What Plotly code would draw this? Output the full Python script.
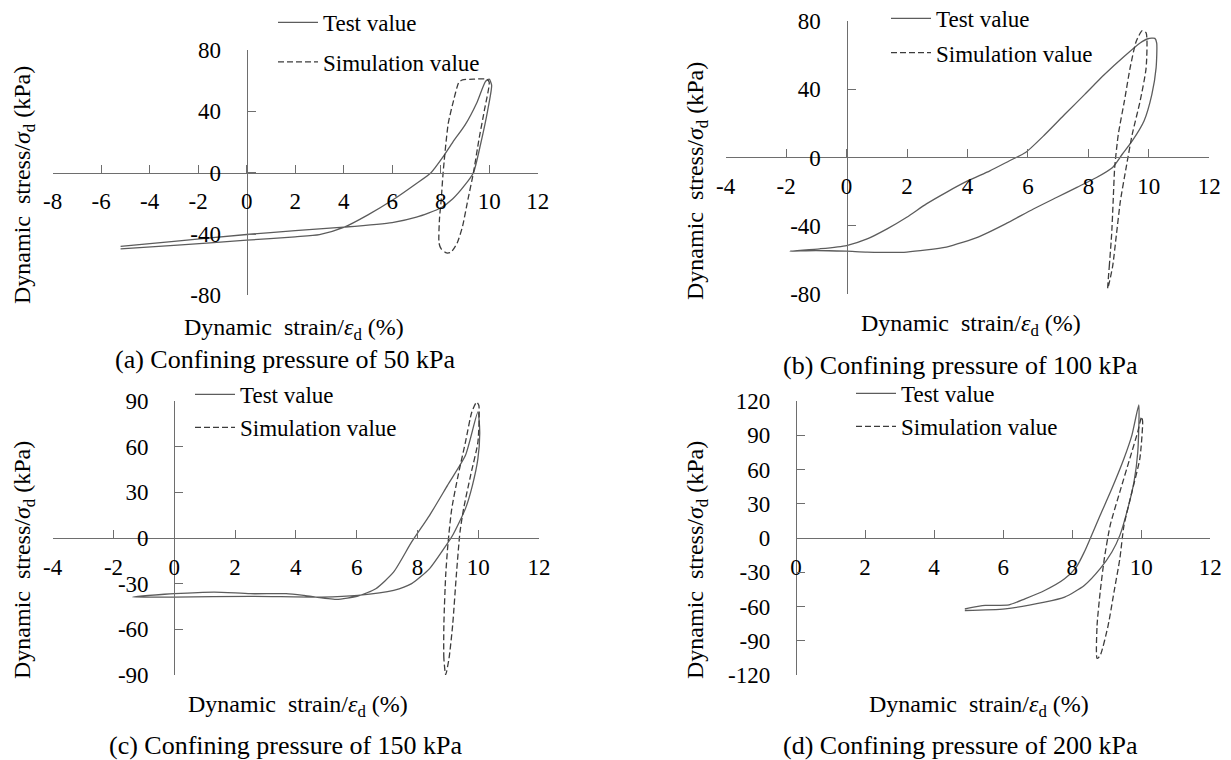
import plotly.graph_objects as go

W, H = 1231, 760

# ---------------- data ----------------
# (a) confining pressure 50 kPa
test_a_x = [-5.2, -3, 0, 2, 4, 6, 7, 8, 8.5, 9, 9.35, 9.65, 9.93, 10.1, 10.0, 9.85, 9.5, 9.0, 8.5, 8.1, 7.6, 7.0, 6.0, 5.0, 4.0, 3.0, 2.0, 0, -3, -5.2]
test_a_y = [-48, -44.8, -40.3, -37.8, -35.5, -32.5, -29, -23, -17, -8, 0, 19, 40, 57, 61, 59.5, 46, 31, 20, 10.4, 0, -7, -18, -27.5, -35.7, -40.4, -41.8, -44, -47.4, -49.7]
sim_a_x = [8.24, 8.02, 7.93, 7.95, 8.02, 8.1, 8.31, 8.53, 8.75, 8.9, 9.4, 9.9, 10.0, 9.8, 9.57, 9.35, 9.12, 8.9, 8.68, 8.42, 8.24]
sim_a_y = [-52.3, -49.7, -45.8, -30, -17.7, 0, 32, 47, 59, 60.5, 61, 61, 59, 40.6, 21, 0, -17.7, -35, -45.8, -51.9, -52.3]

# (b) confining pressure 100 kPa
test_b_x = [-1.87, -0.89, 0, 0.68, 1.34, 1.99, 2.64, 3.3, 4.02, 4.74, 5.39, 5.92, 6.57, 7.22, 7.88, 8.53, 9.19, 9.71, 9.97, 10.2, 10.26, 10.24, 10.1, 9.84, 9.45, 9.12, 8.8, 8.27, 7.62, 6.96, 6.18, 5.26, 4.35, 3.3, 1.99, 0.68, 0, -1.02, -1.87]
test_b_y = [-54.9, -53.5, -51.6, -47.7, -41.8, -35, -27.2, -20.4, -13.6, -7.8, -1.9, 2.9, 13.6, 25.3, 37, 48.6, 59.3, 67.1, 69.6, 69.8, 67, 52.5, 37, 21.4, 9.7, 1.9, -5.8, -11.7, -17.5, -23.3, -30.2, -38.9, -46.7, -52.5, -55.4, -55.4, -54.9, -54.5, -54.9]
sim_b_x = [8.64, 8.69, 8.77, 8.82, 8.87, 8.99, 9.19, 9.38, 9.58, 9.78, 9.91, 9.91, 9.71, 9.45, 9.25, 9.06, 8.93, 8.8, 8.64]
sim_b_y = [-76.8, -64, -44.7, -25.3, -5.8, 13.6, 33, 52.5, 68, 74.3, 73, 52.5, 33, 13.6, -5.8, -25.3, -44.7, -64, -76.8]

# (c) confining pressure 150 kPa
test_c_x = [-1.37, 0, 1.32, 2.5, 3.68, 4.27, 5.33, 6.04, 6.63, 7.22, 7.81, 8.4, 8.99, 9.58, 9.99, 10.05, 9.99, 9.81, 9.58, 9.16, 8.87, 8.4, 7.81, 7.22, 6.04, 4.86, 2.5, 0, -1.37]
test_c_y = [-38.8, -36.6, -35.5, -36.6, -36.6, -37.7, -40.3, -38.1, -33.3, -22.3, -2.6, 14.9, 34.6, 54.3, 82.8, 69.6, 52.1, 34.6, 19.3, 1.8, -7, -20.1, -30, -34.4, -37.7, -38.8, -38.3, -38.8, -38.8]
sim_c_x = [8.93, 8.87, 8.87, 8.93, 9.01, 9.13, 9.34, 9.58, 9.79, 9.95, 10.02, 9.99, 9.75, 9.52, 9.4, 9.28, 9.16, 9.04, 8.93]
sim_c_y = [-89.8, -79, -57, -24.5, -2.6, 19.3, 41.2, 63, 82.8, 89.3, 87.2, 63, 41.2, 19.3, 3.9, -24.5, -57, -79, -89.8]

# (d) confining pressure 200 kPa
test_d_x = [4.89, 5.48, 6.17, 6.63, 7.2, 7.78, 8.12, 8.35, 8.52, 8.81, 9.15, 9.5, 9.73, 9.93, 9.9, 9.79, 9.61, 9.38, 9.15, 8.81, 8.35, 7.78, 7.2, 6.06, 4.89]
test_d_y = [-62, -59.1, -58.5, -53.3, -46, -35.7, -25.5, -12.3, -0.6, 19.9, 43.3, 69.6, 90.1, 116.5, 75.5, 49.2, 25.8, 2.3, -12.3, -26.9, -41.6, -51.8, -56.2, -62, -63.5]
sim_d_x = [8.72, 8.72, 8.81, 8.93, 9.1, 9.38, 9.67, 9.9, 10.01, 10.04, 9.96, 9.73, 9.5, 9.38, 9.21, 9.04, 8.81, 8.72]
sim_d_y = [-105.4, -76.7, -47.4, -18.1, 11.1, 40.4, 69.7, 93.1, 106.2, 101.8, 69.7, 40.4, 11.1, -18.1, -47.4, -76.7, -103, -105.4]

# tick values / labels
xt_a = [-8, -6, -4, -2, 0, 2, 4, 6, 8, 10, 12]
xt_bc = [-4, -2, 0, 2, 4, 6, 8, 10, 12]
xt_d = [0, 2, 4, 6, 8, 10, 12]
yt_ab = [-80, -40, 0, 40, 80]
yt_c = [-90, -60, -30, 0, 30, 60, 90]
yt_d = [-120, -90, -60, -30, 0, 30, 60, 90, 120]

captions = ["(a) Confining pressure of 50 kPa", "(b) Confining pressure of 100 kPa",
            "(c) Confining pressure of 150 kPa", "(d) Confining pressure of 200 kPa"]
series_names = ["Test value", "Simulation value"]
xtitle = "Dynamic  strain/<i>ε</i><sub>d</sub> (%)"
ytitle = "Dynamic  stress/<i>σ</i><sub>d</sub> (kPa)"

# ---------------- layout helpers ----------------
FONT = "Liberation Serif, Times New Roman, serif"
AXC = "#6e6e6e"
LINEC = "#5c5c5c"

def px(x):
    return x / W

def py(y):
    return 1 - y / H

panels = [
    dict(tx=test_a_x, ty=test_a_y, sx=sim_a_x, sy=sim_a_y, xt=xt_a, yt=yt_ab,
         xr=[-8, 12], yr=[-80, 80], xdom=(52.7, 537.7), ydom=(50, 295.4),
         x0=246.7, y0=172.7, leg=(273, 1, 6.5), xtit=(294, 329), ytit=(24, 185), cap=(285, 360)),
    dict(tx=test_b_x, ty=test_b_y, sx=sim_b_x, sy=sim_b_y, xt=xt_bc, yt=yt_ab,
         xr=[-4, 12], yr=[-80, 80], xdom=(725.7, 1209.3), ydom=(21, 294),
         x0=846.6, y0=157, leg=(886, -3, 1.3), xtit=(971, 325), ytit=(697, 181), cap=(960, 365)),
    dict(tx=test_c_x, ty=test_c_y, sx=sim_c_x, sy=sim_c_y, xt=xt_bc, yt=yt_c,
         xr=[-4, 12], yr=[-90, 90], xdom=(52.7, 539), ydom=(401, 675),
         x0=174.3, y0=538, leg=(190, 373, 0), xtit=(298, 706), ytit=(24, 560), cap=(286, 745)),
    dict(tx=test_d_x, ty=test_d_y, sx=sim_d_x, sy=sim_d_y, xt=xt_d, yt=yt_d,
         xr=[0, 12], yr=[-120, 120], xdom=(796, 1210.3), ydom=(401, 675),
         x0=796, y0=538, leg=(851, 372, 0), xtit=(979, 706), ytit=(697, 560), cap=(960, 745)),
]

fig = go.Figure()
layout = dict(width=W, height=H, margin=dict(l=0, r=0, t=0, b=0, autoexpand=False),
              paper_bgcolor="white", plot_bgcolor="white",
              font=dict(family=FONT, size=23, color="black"), annotations=[])

for i, p in enumerate(panels):
    n = "" if i == 0 else str(i + 1)
    xa, ya = "x" + n, "y" + n
    lg = "legend" + n
    fig.add_trace(go.Scatter(x=p["tx"], y=p["ty"], mode="lines", name=series_names[0],
                             line=dict(color=LINEC, width=1.3, shape="spline", smoothing=0.6),
                             xaxis=xa, yaxis=ya, legend=lg, legendgroup="t" + n))
    fig.add_trace(go.Scatter(x=p["sx"], y=p["sy"], mode="lines", name=series_names[1],
                             line=dict(color="#3c3c3c", width=1.3, dash="6px,3px", shape="spline", smoothing=0.6),
                             xaxis=xa, yaxis=ya, legend=lg, legendgroup="s" + n))
    layout["xaxis" + n] = dict(domain=[px(p["xdom"][0]), px(p["xdom"][1])], range=p["xr"],
                               anchor="free", position=py(p["y0"]), showline=True, linecolor=AXC, linewidth=1.3,
                               ticks="inside", ticklen=8, tickwidth=1.3, tickcolor=AXC,
                               tickvals=p["xt"], ticktext=[str(v) for v in p["xt"]],
                               ticklabelstandoff=8, showgrid=False, zeroline=False, automargin=False,
                               tickfont=dict(family=FONT, size=23, color="black"))
    layout["yaxis" + n] = dict(domain=[py(p["ydom"][1]), py(p["ydom"][0])], range=p["yr"],
                               anchor="free", position=px(p["x0"]), showline=True, linecolor=AXC, linewidth=1.3,
                               ticks="inside", ticklen=8, tickwidth=1.3, tickcolor=AXC,
                               tickvals=p["yt"], ticktext=[str(v) for v in p["yt"]],
                               ticklabelstandoff=21, showgrid=False, zeroline=False, automargin=False,
                               tickfont=dict(family=FONT, size=23, color="black"))
    lx, ly, gap = p["leg"]
    layout[lg] = dict(x=px(lx), y=py(ly), xanchor="left", yanchor="top", bgcolor="rgba(0,0,0,0)",
                      font=dict(family=FONT, size=23, color="black"), tracegroupgap=gap,
                      itemwidth=40, traceorder="grouped")
    layout["annotations"] += [
        dict(text=xtitle, x=px(p["xtit"][0]), y=py(p["xtit"][1]), xref="paper", yref="paper",
             showarrow=False, xanchor="center", yanchor="middle", font=dict(family=FONT, size=24)),
        dict(text=ytitle, x=px(p["ytit"][0]), y=py(p["ytit"][1]), xref="paper", yref="paper",
             showarrow=False, xanchor="center", yanchor="middle", textangle=-90, font=dict(family=FONT, size=24)),
        dict(text=captions[i], x=px(p["cap"][0]), y=py(p["cap"][1]), xref="paper", yref="paper",
             showarrow=False, xanchor="center", yanchor="middle", font=dict(family=FONT, size=26)),
    ]

fig.update_layout(**layout)
fig.write_html("out.html")
